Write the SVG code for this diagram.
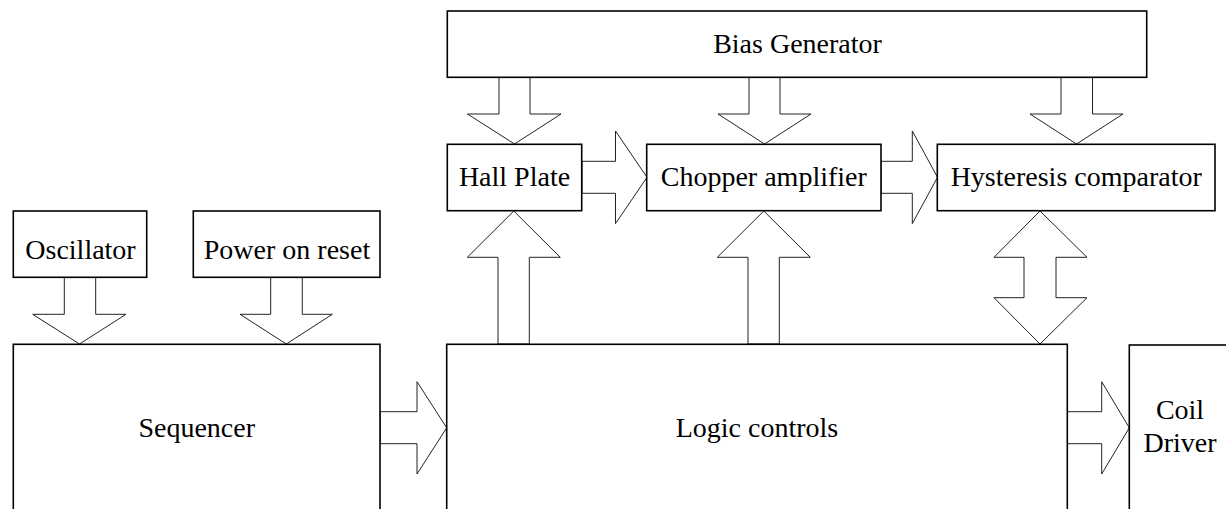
<svg xmlns="http://www.w3.org/2000/svg" width="1226" height="509" viewBox="0 0 1226 509">
<style>
.box{fill:#fff;stroke:#000;stroke-width:1.6}
.arr{fill:#fff;stroke:#222;stroke-width:1}
.t{font-family:'Liberation Serif','Times New Roman',serif;font-size:28px;fill:#000;text-anchor:middle}
</style>
<rect width="1226" height="509" fill="#fff"/>
<g id="connectors">
<polygon class="arr" points="499,77.5 499,114 467.5,114 514.5,144 561,114 530,114 530,77.5"/>
<polygon class="arr" points="749,77.5 749,114 718,114 764.5,144 811,114 780,114 780,77.5"/>
<polygon class="arr" points="1061,77.5 1061,114 1030,114 1076.5,144 1123,114 1092.5,114 1092.5,77.5"/>
<polygon class="arr" points="582,161.3 615.5,161.3 615.5,131 647,177.3 615.5,223.6 615.5,193.3 582,193.3"/>
<polygon class="arr" points="881,161.3 912.3,161.3 912.3,131 937.5,177.3 912.3,223.6 912.3,193.3 881,193.3"/>
<polygon class="arr" points="498,344 498,257.3 467.3,257.3 513.8,211 560.3,257.3 529.3,257.3 529.3,344"/>
<polygon class="arr" points="748,344 748,257.3 717.3,257.3 763.8,211 810.3,257.3 779.3,257.3 779.3,344"/>
<polygon class="arr" points="1040,211 1087,257.3 1056,257.3 1056,297.7 1087,297.7 1040,344 994,297.7 1024,297.7 1024,257.3 994,257.3"/>
<polygon class="arr" points="64.3,277 64.3,314.3 32.7,314.3 79.5,344 126,314.3 95.7,314.3 95.7,277"/>
<polygon class="arr" points="270.7,277 270.7,314.3 240,314.3 286.3,344 332.3,314.3 302.3,314.3 302.3,277"/>
<polygon class="arr" points="380,411.7 417,411.7 417,381.7 446.7,427.8 417,474 417,443.7 380,443.7"/>
<polygon class="arr" points="1067.3,411.7 1101.7,411.7 1101.7,381.7 1129.3,427.8 1101.7,474 1101.7,443.7 1067.3,443.7"/>
</g>
<g id="bias"><rect class="box" x="447.3" y="11" width="699.4" height="66.3"/><text class="t" x="797.5" y="53.3">Bias Generator</text></g>
<g id="hall"><rect class="box" x="447.3" y="144.3" width="134.4" height="66.4"/><text class="t" x="514.5" y="186">Hall Plate</text></g>
<g id="chopper"><rect class="box" x="646.7" y="144.3" width="234.3" height="66.4"/><text class="t" x="763.8" y="186">Chopper amplifier</text></g>
<g id="hyst"><rect class="box" x="937.3" y="144.3" width="277.7" height="66.4"/><text class="t" x="1076.2" y="186">Hysteresis comparator</text></g>
<g id="osc"><rect class="box" x="13.3" y="211" width="133.4" height="66.3"/><text class="t" x="80.5" y="259">Oscillator</text></g>
<g id="por"><rect class="box" x="193.3" y="211" width="186.7" height="66.3"/><text class="t" x="287" y="259">Power on reset</text></g>
<g id="seq"><rect class="box" x="13.3" y="344.3" width="366.7" height="180"/><text class="t" x="196.7" y="436.7">Sequencer</text></g>
<g id="logic"><rect class="box" x="446.7" y="344.3" width="620.6" height="180"/><text class="t" x="757" y="436.5">Logic controls</text></g>
<g id="coil"><rect class="box" x="1129.3" y="345" width="120" height="180"/><text class="t" x="1180" y="419.3">Coil</text><text class="t" x="1180" y="451.7">Driver</text></g>
</svg>
